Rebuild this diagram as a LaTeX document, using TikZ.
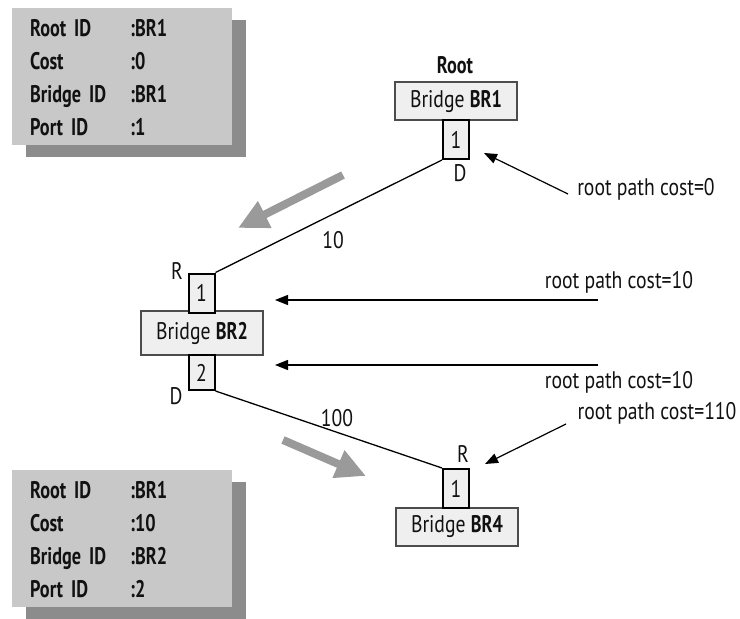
\documentclass[tikz,border=0pt]{standalone}
\usepackage{fontspec}
\setmainfont{PT Sans}[FakeStretch=0.82, BoldFeatures={FakeStretch=0.76}]
\usetikzlibrary{arrows.meta,shadows}
\definecolor{infofill}{HTML}{C8C8C8}
\definecolor{shadowgray}{HTML}{8C8C8C}
\definecolor{bridgefill}{HTML}{EFEFEF}
\definecolor{bigarrow}{HTML}{9A9A9A}
\definecolor{txt}{HTML}{111111}
\begin{document}
\begin{tikzpicture}[x=1pt,y=-1pt,
  every node/.style={font=\fontsize{24}{27}\selectfont, text=txt},
  bridge/.style={draw=black!70, line width=1.2pt, fill=bridgefill, minimum width=122pt, inner sep=0pt},
  portbox/.style={draw=black, line width=2pt, fill=bridgefill, minimum width=26pt, minimum height=39pt, inner sep=0pt},
  infobox/.style={fill=infofill, anchor=north west, minimum width=220pt, minimum height=137pt,
     inner xsep=18pt, inner ysep=0pt, text width=184pt,
     drop shadow={shadow xshift=14pt, shadow yshift=-12pt, fill=shadowgray, opacity=1}},
  link/.style={line width=1.3pt, black},
  bigarr/.style={line width=8pt, bigarrow, -{Triangle[length=30pt,width=28pt]}},
  costarr/.style={line width=1.2pt, black, -{Triangle[length=13pt,width=10pt]}},
  lbl/.style={inner sep=1pt}
]
\useasboundingbox (0,0) rectangle (740,619);

% info boxes
\node[infobox] (info1) at (12,8) {\bfseries\def\arraystretch{1.22}%
\begin{tabular}{@{}p{100pt}@{}l@{}}
\rule{0pt}{28pt}Root ID & :BR1\\ Cost & :0\\ Bridge ID & :BR1\\ Port ID & :1
\end{tabular}};
\node[infobox] (info2) at (12,470) {\bfseries\def\arraystretch{1.22}%
\begin{tabular}{@{}p{100pt}@{}l@{}}
\rule{0pt}{28pt}Root ID & :BR1\\ Cost & :10\\ Bridge ID & :BR2\\ Port ID & :2
\end{tabular}};

% bridges
\node[bridge, minimum height=38pt] (br1) at (456,101) {Bridge \textbf{BR1}};
\node[portbox] (p11) at (456,139.5) {1};
\node[lbl, font=\fontsize{24}{27}\selectfont\bfseries] (root) at (455,65) {Root};
\node[lbl] (d1) at (460,173) {D};

\node[bridge, minimum height=44pt] (br2) at (202,333) {Bridge \textbf{BR2}};
\node[portbox] (p21) at (201.5,293) {1};
\node[portbox, minimum height=35pt] (p22) at (201.5,372.5) {2};
\node[lbl] (r2) at (177,271) {R};
\node[lbl] (d2) at (176,396) {D};

\node[bridge, minimum height=38pt] (br4) at (457,527) {Bridge \textbf{BR4}};
\node[portbox] (p41) at (456,488.5) {1};
\node[lbl] (r4) at (463,454) {R};

% links
\draw[link] (p11.south west) -- (p21.north east);
\draw[link] (p22.south east) -- (p41.north west);
\node[lbl] (c10) at (333,240) {10};
\node[lbl] (c100) at (337,418) {100};

% big gray arrows
\coordinate (g1s) at (343,175);
\coordinate (g1e) at (238,228);
\draw[bigarr] (g1s) -- (g1e);
\coordinate (g2s) at (283,440);
\coordinate (g2e) at (366,476);
\draw[bigarr] (g2s) -- (g2e);

% root path cost arrows
\node[lbl] (t0) at (646,189) {root path cost=0};
\coordinate (a0s) at (568,194);
\coordinate (a0e) at (484,153);
\draw[costarr] (a0s) -- (a0e);

\node[lbl] (t10a) at (619,282) {root path cost=10};
\coordinate (a1s) at (598,300);
\coordinate (a1e) at (275,300);
\draw[costarr] (a1s) -- (a1e);

\node[lbl] (t10b) at (619,382) {root path cost=10};
\coordinate (a2s) at (598,365);
\coordinate (a2e) at (275,365);
\draw[costarr] (a2s) -- (a2e);

\node[lbl] (t110) at (657,413) {root path cost=110};
\coordinate (a3s) at (566,424);
\coordinate (a3e) at (485,464);
\draw[costarr] (a3s) -- (a3e);
\end{tikzpicture}
\end{document}
